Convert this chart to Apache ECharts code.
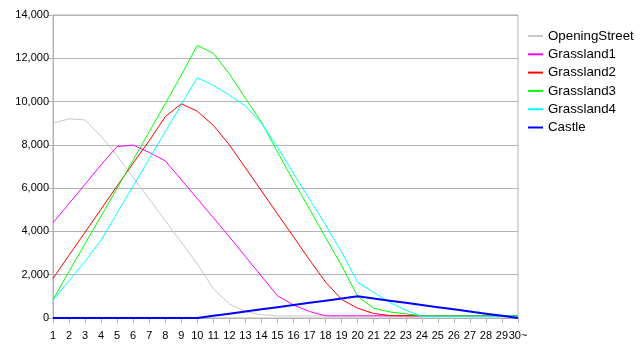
<!DOCTYPE html>
<html>
<head>
<meta charset="utf-8">
<script src="https://cdn.jsdelivr.net/npm/echarts@6/dist/echarts.min.js"></script>
<style>
html,body{margin:0;padding:0;background:#fff;}
#chart{width:641px;height:356px;}
</style>
</head>
<body>
<div id="chart"></div>
<script>
const categories = ['1','2','3','4','5','6','7','8','9','10','11','12','13','14','15','16','17','18','19','20','21','22','23','24','25','26','27','28','29','30~'];
const yTicks = [0, 2000, 4000, 6000, 8000, 10000, 12000, 14000];

const openingStreet = [9000, 9200, 9150, 8400, 7500, 6500, 5500, 4500, 3500, 2500, 1350, 650, 300, 150, 100, 100, 100, 100, 100, 100, 100, 100, 100, 100, 100, 100, 100, 100, 100, 100];
const grassland1 = [4400, 5290, 6180, 7080, 7920, 7990, 7650, 7260, 6390, 5510, 4630, 3750, 2840, 1930, 1030, 600, 300, 100, 100, 100, 100, 100, 100, 100, 100, 100, 100, 100, 100, 100];
const grassland2 = [1830, 2900, 3960, 5030, 6100, 7160, 8190, 9300, 9900, 9550, 8900, 8000, 6940, 5875, 4810, 3750, 2680, 1660, 860, 450, 210, 110, 100, 100, 100, 100, 100, 100, 100, 100];
const grassland3 = [850, 2150, 3430, 4710, 6000, 7300, 8600, 9900, 11220, 12600, 12230, 11280, 10150, 9050, 7670, 6330, 5030, 3720, 2420, 1000, 450, 280, 190, 100, 100, 100, 100, 100, 100, 100];
const grassland4 = [830, 1720, 2610, 3600, 4850, 6100, 7360, 8600, 9860, 11100, 10750, 10300, 9800, 9000, 7900, 6680, 5490, 4300, 3050, 1650, 1180, 720, 360, 80, 80, 80, 80, 80, 80, 80];
const castle = [0, 0, 0, 0, 0, 0, 0, 0, 0, 0, 100, 200, 300, 400, 500, 600, 700, 800, 900, 1000, 900, 800, 700, 600, 500, 400, 300, 200, 100, 0];

const seriesNames = ['OpeningStreet', 'Grassland1', 'Grassland2', 'Grassland3', 'Grassland4', 'Castle'];
const seriesData = [openingStreet, grassland1, grassland2, grassland3, grassland4, castle];
const seriesColors = ['#c8c8c8', '#ff00ff', '#ff0000', '#00ff00', '#00ffff', '#0000ff'];
const seriesWidths = [1, 1, 1, 1, 1, 2];

const FONT = '"Liberation Sans", Arial, sans-serif';
const GRAY = '#b3b3b3';

const chart = echarts.init(document.getElementById('chart'), null, {renderer: 'canvas'});
chart.setOption({
  animation: false,
  backgroundColor: '#ffffff',
  grid: {left: 53, right: 123, top: 15, bottom: 38, show: true, borderColor: GRAY, borderWidth: 1},
  legend: {
    orient: 'vertical',
    left: 527,
    top: 29.5,
    itemWidth: 15,
    itemHeight: 14,
    itemGap: 5.3,
    padding: 0,
    itemStyle: {opacity: 0},
    textStyle: {fontFamily: FONT, fontSize: 13.3, color: '#000'},
    data: seriesNames
  },
  xAxis: {
    type: 'category',
    data: categories,
    boundaryGap: false,
    axisLine: {lineStyle: {color: GRAY, width: 1}},
    axisTick: {show: true, interval: 0, length: 5, lineStyle: {color: GRAY}},
    axisLabel: {interval: 0, margin: 12, fontFamily: FONT, fontSize: 11, color: '#000'},
    splitLine: {show: false}
  },
  yAxis: {
    type: 'value',
    min: yTicks[0],
    max: yTicks[yTicks.length - 1],
    interval: yTicks[1] - yTicks[0],
    axisLine: {show: true, lineStyle: {color: GRAY, width: 1}},
    axisTick: {show: true, length: 5, lineStyle: {color: GRAY}},
    axisLabel: {margin: 4, fontFamily: FONT, fontSize: 11, color: '#000',
      formatter: v => v.toLocaleString('en-US')},
    splitLine: {show: true, lineStyle: {color: GRAY, width: 1}}
  },
  series: seriesNames.map((name, i) => ({
    name: name,
    type: 'line',
    data: seriesData[i],
    symbol: 'none',
    showSymbol: false,
    smooth: false,
    color: seriesColors[i],
    lineStyle: {color: seriesColors[i], width: seriesWidths[i]},
    emphasis: {disabled: true}
  }))
});
</script>
</body>
</html>
